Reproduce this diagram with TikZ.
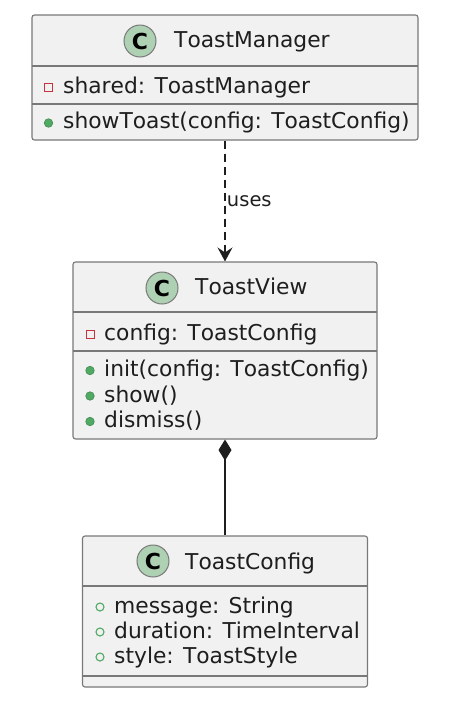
\documentclass[tikz,border=0pt]{standalone}
\usepackage{fontspec}
\setmainfont{DejaVu Sans}[Kerning=Off]
\usetikzlibrary{positioning}
\usetikzlibrary{arrows.meta}
\definecolor{boxfill}{RGB}{241,241,241}
\definecolor{boxgray}{RGB}{120,120,120}
\definecolor{cgreen}{RGB}{173,209,178}
\definecolor{privred}{RGB}{200,50,60}
\definecolor{pubgreen}{RGB}{80,170,100}
\definecolor{txt}{RGB}{30,30,30}
\newcommand{\umlfont}{\fontsize{21.8}{25.5}\selectfont}
\newcommand{\labelfont}{\fontsize{19.5}{23}\selectfont}
\newcommand{\cfont}{\fontsize{22}{24}\selectfont\bfseries}

\begin{document}
\begin{tikzpicture}[
 x=1pt, y=-1pt,
 classbox/.style={rectangle, draw=boxgray, fill=boxfill, rounded corners=2.5pt, line width=1.1pt, inner sep=0pt},
 classname/.style={anchor=base west, inner sep=0pt, font=\umlfont, text=txt},
 member/.style={anchor=base west, inner sep=0pt, font=\umlfont, text=txt},
 cicon/.style={circle, draw=boxgray, fill=cgreen, line width=1pt, minimum size=32pt, inner sep=0pt, font=\cfont},
 privicon/.style={rectangle, draw=privred, line width=1pt, minimum size=8pt, inner sep=0pt},
 pubicon/.style={circle, fill=pubgreen, draw=pubgreen!80!black, line width=0.6pt, minimum size=8.5pt, inner sep=0pt},
 fieldicon/.style={circle, draw=pubgreen, line width=1.1pt, minimum size=8pt, inner sep=0pt},
 sep/.style={draw=boxgray, line width=1.1pt},
 uses/.style={-{Stealth[length=14pt, width=15pt, inset=5pt]}, dash pattern=on 8pt off 5pt, line width=1.3pt, draw=txt},
 compo/.style={{Diamond[length=21pt, width=13pt]}-, line width=1.2pt, draw=txt},
 rate/.style={font=\labelfont, text=txt}
]
\useasboundingbox (0,0) rectangle (465,721);

% ToastManager class
\node[classbox, minimum width=386pt, minimum height=125pt] (mgr) at (225,77.5) {};
\node[cicon] (Cmgr) at (140,41) {C};
\node[classname] (Nmgr) at (174,47) {ToastManager};
\draw[sep] (32,66) -- (418,66);
\draw[sep] (32,104) -- (418,104);
\node[privicon] (Imgr1) at (48.5,87) {};
\node[member] (Amgr1) at (63,93) {shared: ToastManager};
\node[pubicon] (Imgr2) at (48.5,123) {};
\node[member] (Amgr2) at (63,128.5) {showToast(config: ToastConfig)};

% ToastView class
\node[classbox, minimum width=304pt, minimum height=177pt] (view) at (225,350.5) {};
\node[cicon] (Cview) at (162,288) {C};
\node[classname] (Nview) at (195,294) {ToastView};
\draw[sep] (73,312) -- (377,312);
\draw[sep] (73,351) -- (377,351);
\node[privicon] (Iview1) at (90,334) {};
\node[member] (Aview1) at (104,340) {config: ToastConfig};
\foreach \y/\t [count=\i from 2] in {376.5/init(config: ToastConfig), 402/show(), 427.5/dismiss()} {
 \node[pubicon] (Iview\i) at (90,\y-6) {};
 \node[member] (Aview\i) at (104,\y) {\t};
}

% ToastConfig class
\node[classbox, minimum width=285pt, minimum height=151pt] (cfg) at (225,611.5) {};
\node[cicon] (Ccfg) at (153,561) {C};
\node[classname] (Ncfg) at (185,569) {ToastConfig};
\draw[sep] (82.5,586) -- (367.5,586);
\draw[sep] (82.5,676) -- (367.5,676);
\foreach \y/\t [count=\i] in {613/message: String, 638/duration: TimeInterval, 663/style: ToastStyle} {
 \node[fieldicon] (Icfg\i) at (100,\y-6) {};
 \node[member] (Acfg\i) at (114,\y) {\t};
}

% Relations
\draw[uses] (mgr.south) -- (view.north) node[midway, right, xshift=-2pt, rate] {uses};
\draw[compo] (view.south) -- (cfg.north);
\end{tikzpicture}
\end{document}
